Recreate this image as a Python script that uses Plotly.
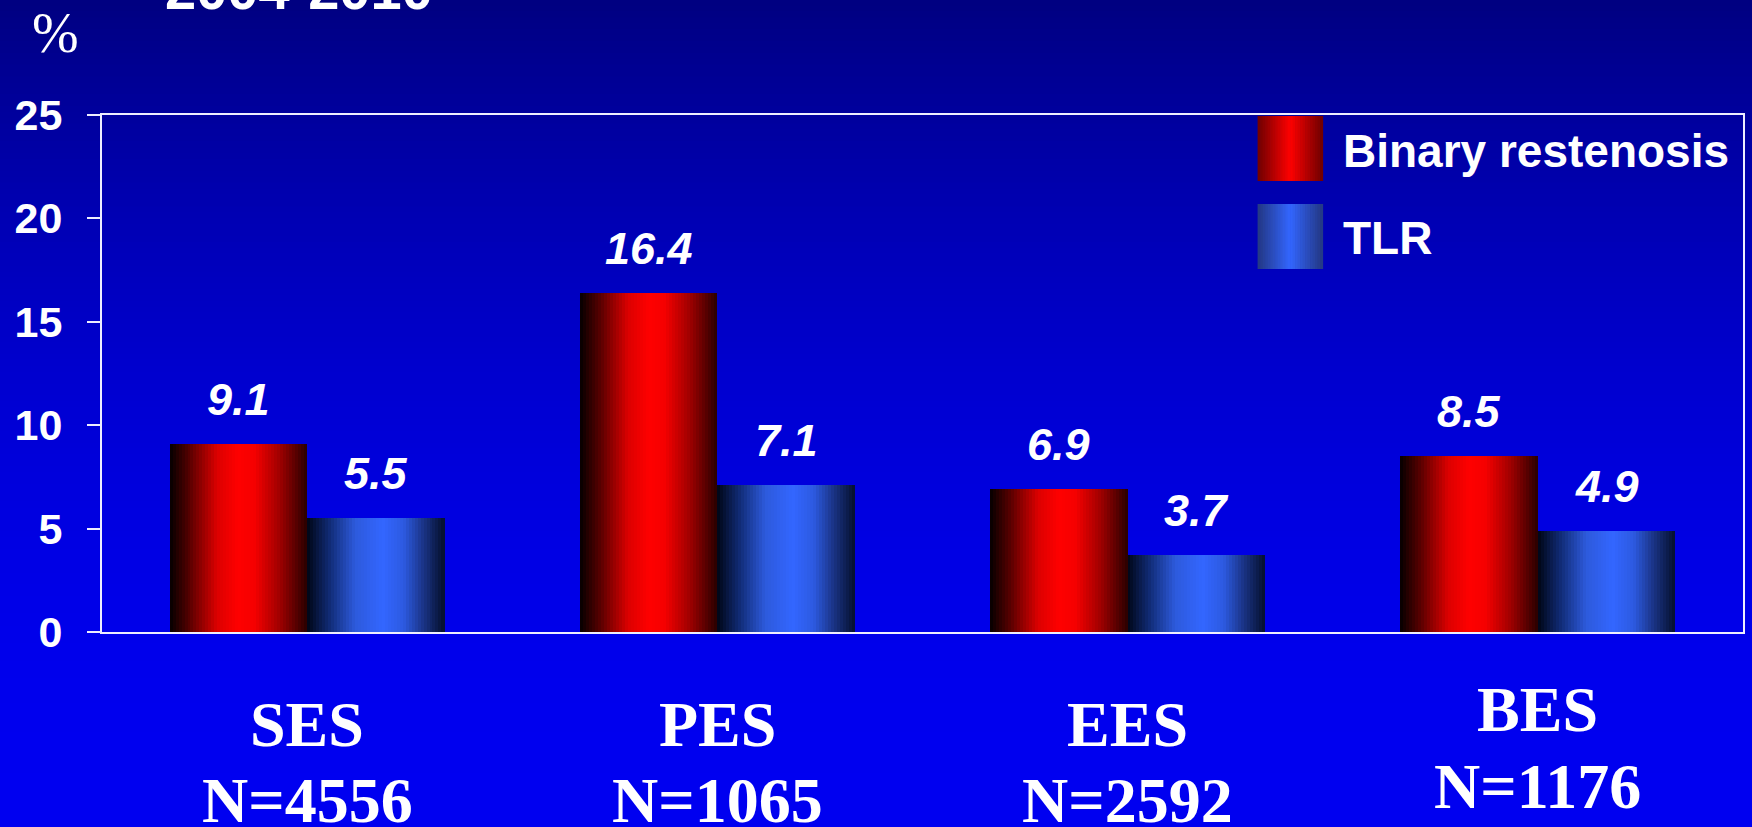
import plotly.graph_objects as go

# ---- data ----
stents = ["SES", "PES", "EES", "BES"]
patients = [4556, 1065, 2592, 1176]
binary_restenosis = [9.1, 16.4, 6.9, 8.5]
tlr = [5.5, 7.1, 3.7, 4.9]
y_ticks = [0, 5, 10, 15, 20, 25]
series_names = ["Binary restenosis", "TLR"]

# ---- canvas geometry (pixels) ----
W, H = 1752, 827
ML, MR, MT, MB = 102, 7, 115, 195
PW, PH = W - ML - MR, H - MT - MB


def px_x(p):
    return (p - ML) / PW


def px_y(p):
    return (H - MB - p) / PH


def lerp_stops(stops, t):
    for (t0, c0), (t1, c1) in zip(stops, stops[1:]):
        if t0 <= t <= t1:
            f = 0 if t1 == t0 else (t - t0) / (t1 - t0)
            return "rgb(%d,%d,%d)" % tuple(round(a + (b - a) * f) for a, b in zip(c0, c1))
    return "rgb(%d,%d,%d)" % stops[-1][1]


# horizontal shading across each bar
red_stops = [(0, (5, 0, 0)), (0.15, (90, 0, 0)), (0.35, (220, 0, 0)), (0.5, (255, 0, 0)),
             (0.62, (245, 0, 0)), (0.8, (160, 0, 0)), (1, (40, 0, 0))]
blue_stops = [(0, (0, 5, 20)), (0.15, (15, 40, 110)), (0.35, (45, 90, 220)), (0.55, (51, 102, 255)),
              (0.7, (45, 90, 225)), (0.85, (25, 50, 130)), (1, (5, 15, 45))]
red_key = [(0, (110, 0, 0)), (0.5, (255, 0, 0)), (1, (110, 0, 0))]
blue_key = [(0, (35, 55, 130)), (0.5, (51, 102, 255)), (1, (35, 55, 130))]

BAR_W = 0.335
N_STRIPS = 46

fig = go.Figure()

centers = list(range(len(stents)))
for values, stops, start in [(binary_restenosis, red_stops, -BAR_W), (tlr, blue_stops, 0.0)]:
    sw = BAR_W / N_STRIPS
    for j in range(N_STRIPS):
        t = (j + 0.5) / N_STRIPS
        fig.add_trace(go.Bar(
            x=[c + start + (j + 0.5) * sw for c in centers],
            y=values,
            width=sw * 1.08,
            marker=dict(color=lerp_stops(stops, t), line=dict(width=0)),
            showlegend=False,
            hoverinfo="skip",
        ))

annotations = []
# value labels above the bars
for values, start in [(binary_restenosis, -BAR_W / 2), (tlr, BAR_W / 2)]:
    for c, v in zip(centers, values):
        annotations.append(dict(
            x=c + start, y=v, xref="x", yref="y", text="<b><i>%.1f</i></b>" % v,
            showarrow=False, yanchor="bottom", yshift=17,
            font=dict(family="Liberation Sans", size=45, color="white"),
        ))

# category labels under the axis
name_y = [724.5, 724.5, 724.5, 709]
n_y = [800, 800, 800, 786]
for c, name, n, ny1, ny2 in zip(centers, stents, patients, name_y, n_y):
    annotations.append(dict(x=c, y=px_y(ny1), xref="x", yref="paper", text="<b>%s</b>" % name,
                            showarrow=False, yanchor="middle",
                            font=dict(family="Liberation Serif", size=64, color="white")))
    annotations.append(dict(x=c, y=px_y(ny2), xref="x", yref="paper", text="<b>N=%d</b>" % n,
                            showarrow=False, yanchor="middle",
                            font=dict(family="Liberation Serif", size=64, color="white")))

# unit and period headings
annotations.append(dict(x=px_x(55), y=px_y(33), xref="paper", yref="paper", text="%",
                        showarrow=False, xanchor="center", yanchor="middle",
                        font=dict(family="Liberation Serif", size=56, color="white")))
annotations.append(dict(x=px_x(163), y=px_y(23), xref="paper", yref="paper", text="<b>2004-2010</b>",
                        showarrow=False, xanchor="left", yanchor="bottom",
                        font=dict(family="Liberation Sans", size=56, color="white")))

# key entries
key_rows = [(116, 181, red_key, series_names[0]), (204, 269, blue_key, series_names[1])]
shapes = []
# vertical background shading
N_BANDS = 140
for i in range(N_BANDS):
    y0p = H * i / N_BANDS
    y1p = H * (i + 1) / N_BANDS
    m = (y0p + y1p) / 2 / H
    b = round(128 + 112 * (1 - (1 - m) ** 2))
    shapes.append(dict(type="rect", xref="paper", yref="paper", layer="below",
                       x0=px_x(-5), x1=px_x(W + 5), y0=px_y(y1p + 0.5), y1=px_y(y0p - 0.5),
                       line=dict(width=0), fillcolor="rgb(0,0,%d)" % b))

KX0, KX1 = 1259, 1324
NK = 26
for top, bot, stops, label in key_rows:
    for j in range(NK):
        xa = KX0 + (KX1 - KX0) * j / NK
        xb = KX0 + (KX1 - KX0) * (j + 1) / NK
        shapes.append(dict(type="rect", xref="paper", yref="paper", layer="above",
                           x0=px_x(xa), x1=px_x(xb + 0.6), y0=px_y(bot), y1=px_y(top),
                           line=dict(width=0), fillcolor=lerp_stops(stops, (j + 0.5) / NK)))
    annotations.append(dict(x=px_x(1343), y=px_y((top + bot) / 2 + 2), xref="paper", yref="paper",
                            text="<b>%s</b>" % label, showarrow=False, xanchor="left", yanchor="middle",
                            font=dict(family="Liberation Sans", size=46, color="white")))

frame = "#EEEEFF"
fig.update_layout(
    width=W, height=H,
    margin=dict(l=ML, r=MR, t=MT, b=MB),
    paper_bgcolor="rgb(0,0,192)",
    plot_bgcolor="rgba(0,0,0,0)",
    barmode="overlay",
    bargap=0,
    showlegend=False,
    shapes=shapes,
    annotations=annotations,
    xaxis=dict(range=[-0.5, len(stents) - 0.5], showticklabels=False, ticks="",
               showgrid=False, zeroline=False, showline=True, mirror=True,
               linecolor=frame, linewidth=2),
    yaxis=dict(range=[0, 25], tickvals=y_ticks, ticks="outside", ticklen=13, tickwidth=2,
               tickcolor=frame, showgrid=False, zeroline=False, showline=True, mirror=True,
               linecolor=frame, linewidth=2, ticklabelstandoff=16,
               tickfont=dict(family="Liberation Sans", size=43, color="white", weight="bold")),
)

fig.write_html("out.html")
